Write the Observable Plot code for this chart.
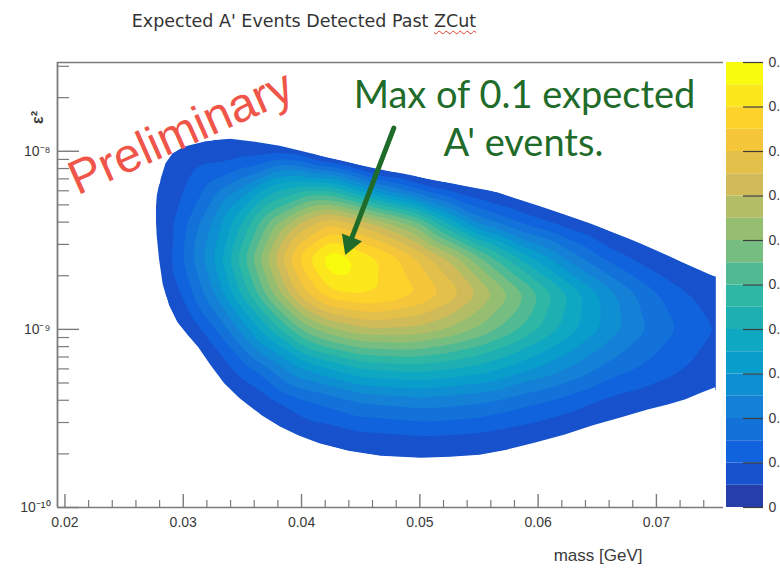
<!DOCTYPE html>
<html>
<head>
<meta charset="utf-8">
<script src="https://cdn.jsdelivr.net/npm/d3@7"></script>
<script src="https://cdn.jsdelivr.net/npm/@observablehq/plot@0.6"></script>
<style>
  html, body { margin: 0; padding: 0; background: #fff; }
  #figure { position: relative; width: 780px; height: 574px; overflow: hidden; }
  #main { position: absolute; left: 0; top: 0; }
  #colorbar { position: absolute; left: 726px; top: 0; }
  #title {
    position: absolute; left: 0; top: 11px; width: 608px; text-align: center;
    font: 17.5px/20px "DejaVu Sans", sans-serif; color: #333;
  }
  #title .spell { text-decoration: underline wavy #e23a2a; text-decoration-thickness: 1px; text-underline-offset: 3px; }
</style>
</head>
<body>
<div id="figure">
  <div id="main"></div>
  <div id="colorbar"></div>
  <div id="title">Expected A' Events Detected Past <span class="spell">ZCut</span></div>
</div>
<script>
// ---- Expected A' events on a (mass, log10 ε²) grid ----
const massCols = [0.025, 0.0275, 0.03, 0.0325, 0.035, 0.0375, 0.04, 0.0425, 0.045, 0.0475, 0.05,
                  0.0525, 0.055, 0.0575, 0.06, 0.0625, 0.065, 0.0675, 0.07, 0.0725, 0.075];
const logEps2Rows = [-10.0, -9.8, -9.6, -9.4, -9.2, -9.0, -8.8, -8.6, -8.4, -8.2, -8.0, -7.8, -7.6];
// one row per log10(ε²) value, one column per mass value
const expectedEvents = [
  [0, 0, 0, 0, 0, 0, 0, 0, 0, 0, 0, 0, 0, 0, 0, 0, 0, 0, 0, 0, 0],
  [0, 0, 0, 0, 0, 0, 0, 0, 0.0012, 0.0015, 0.0021, 0.0019, 0.0016, 0.0006, 0, 0, 0, 0, 0, 0, 0],
  [0, 0, 0, 0, 0, 0.0019, 0.0052, 0.0064, 0.0084, 0.0089, 0.0096, 0.0093, 0.0088, 0.0075, 0.0062, 0.0048, 0.0027, 0.0013, 0.0006, 0, 0],
  [0, 0, 0, 0, 0.0048, 0.0091, 0.0142, 0.0171, 0.0206, 0.0217, 0.0228, 0.0221, 0.0209, 0.0184, 0.0158, 0.0130, 0.0100, 0.0078, 0.0061, 0.0049, 0.0035],
  [0, 0, 0, 0.0055, 0.0133, 0.0221, 0.0318, 0.0374, 0.0423, 0.0436, 0.0444, 0.0426, 0.0399, 0.0357, 0.0309, 0.0261, 0.0211, 0.0168, 0.0134, 0.0102, 0.0077],
  [0, 0, 0.0040, 0.0137, 0.0268, 0.0409, 0.0556, 0.0643, 0.0689, 0.0694, 0.0685, 0.0647, 0.0594, 0.0528, 0.0453, 0.0380, 0.0307, 0.0240, 0.0185, 0.0135, 0.0097],
  [0, 0.0017, 0.0107, 0.0240, 0.0412, 0.0597, 0.0780, 0.0893, 0.0913, 0.0897, 0.0855, 0.0788, 0.0702, 0.0608, 0.0506, 0.0404, 0.0308, 0.0223, 0.0155, 0.0104, 0.0071],
  [0, 0.0025, 0.0150, 0.0296, 0.0484, 0.0687, 0.0877, 0.1000, 0.0940, 0.0884, 0.0795, 0.0698, 0.0566, 0.0444, 0.0334, 0.0235, 0.0160, 0.0104, 0.0063, 0.0037, 0.0026],
  [0, 0.0037, 0.0133, 0.0255, 0.0405, 0.0574, 0.0713, 0.0797, 0.0732, 0.0648, 0.0560, 0.0385, 0.0231, 0.0167, 0.0113, 0.0069, 0.0036, 0.0010, 0, 0, 0],
  [0, 0.0039, 0.0096, 0.0169, 0.0245, 0.0370, 0.0412, 0.0405, 0.0299, 0.0188, 0.0111, 0.0067, 0.0039, 0.0011, 0, 0, 0, 0, 0, 0, 0],
  [0, 0.0046, 0.0052, 0.0069, 0.0076, 0.0077, 0.0052, -0.0039, -0.0116, -0.0157, -0.0126, -0.0082, 0, 0, 0, 0, 0, 0, 0, 0, 0],
  [0, 0, 0.0029, 0.0009, 0, 0, 0, 0, 0, 0, 0, 0, 0, 0, 0, 0, 0, 0, 0, 0, 0],
  [0, 0, 0, 0, 0, 0, 0, 0, 0, 0, 0, 0, 0, 0, 0, 0, 0, 0, 0, 0, 0]
];

// Edge of the populated region: upper and lower halves, [mass, log10 ε²], ascending mass
const upperEdge = [
  [0.0277, -8.350], [0.0278, -8.254], [0.0281, -8.153], [0.0285, -8.068], [0.0291, -8.011],
  [0.0302, -7.972], [0.0319, -7.944], [0.0340, -7.932], [0.0361, -7.949], [0.0382, -7.972],
  [0.0403, -8.006], [0.0425, -8.040], [0.0446, -8.073], [0.0467, -8.102], [0.0488, -8.130],
  [0.0509, -8.158], [0.0526, -8.181], [0.0543, -8.203], [0.0566, -8.232], [0.0581, -8.266],
  [0.0602, -8.311], [0.0622, -8.356], [0.0644, -8.407], [0.0666, -8.463], [0.0687, -8.520],
  [0.0708, -8.582], [0.0729, -8.644], [0.0750, -8.706]
];
const lowerEdge = [
  [0.0277, -8.350], [0.0278, -8.480], [0.0280, -8.610], [0.0283, -8.746], [0.0288, -8.864],
  [0.0295, -8.960], [0.0304, -9.034], [0.0313, -9.102], [0.0323, -9.198], [0.0335, -9.305],
  [0.0348, -9.390], [0.0367, -9.486], [0.0382, -9.548], [0.0398, -9.599], [0.0416, -9.644],
  [0.0440, -9.684], [0.0467, -9.712], [0.0501, -9.723], [0.0526, -9.718], [0.0551, -9.706],
  [0.0574, -9.678], [0.0598, -9.638], [0.0623, -9.593], [0.0646, -9.542], [0.0670, -9.497],
  [0.0693, -9.452], [0.0710, -9.424], [0.0725, -9.395], [0.0737, -9.362], [0.0750, -9.328]
];

// Contour levels (20 bands of 0.005 from 0 to 0.1) and colour-bar ticks
const zLevels = [0.005, 0.01, 0.015, 0.02, 0.025, 0.03, 0.035, 0.04, 0.045, 0.05,
                 0.055, 0.06, 0.065, 0.07, 0.075, 0.08, 0.085, 0.09, 0.095];
const zBandLows = [0, ...zLevels];
const zTicks = [0, 0.01, 0.02, 0.03, 0.04, 0.05, 0.06, 0.07, 0.08, 0.09, 0.1];

// Axis ticks
const xMajor = [0.02, 0.03, 0.04, 0.05, 0.06, 0.07];
const xMinor = [0.022, 0.024, 0.026, 0.028, 0.032, 0.034, 0.036, 0.038, 0.042, 0.044, 0.046, 0.048,
                0.052, 0.054, 0.056, 0.058, 0.062, 0.064, 0.066, 0.068, 0.072, 0.074];
const yMajor = [1e-10, 1e-9, 1e-8];
const yMinor = [2e-10, 3e-10, 4e-10, 5e-10, 6e-10, 7e-10, 8e-10, 9e-10,
                2e-9, 3e-9, 4e-9, 5e-9, 6e-9, 7e-9, 8e-9, 9e-9, 2e-8, 3e-8];

const xDomain = [0.01937, 0.07567];
const yDomain = [1e-10, 3.15e-8];

// ROOT "bird" palette, sampled once per contour band
const bird = {
  r: [0.2082, 0.0592, 0.0780, 0.0232, 0.1802, 0.5301, 0.8186, 0.9956, 0.9764],
  g: [0.1664, 0.3599, 0.5041, 0.6419, 0.7178, 0.7492, 0.7328, 0.7862, 0.9832],
  b: [0.5293, 0.8684, 0.8385, 0.7914, 0.6425, 0.4662, 0.3499, 0.1968, 0.0539]
};
function birdColor(t) {
  const n = bird.r.length - 1;
  const k = Math.min(n - 1, Math.floor(t * n)), f = t * n - k;
  const c = (ch) => Math.round(255 * (bird[ch][k] + f * (bird[ch][k + 1] - bird[ch][k])));
  return `rgb(${c("r")},${c("g")},${c("b")})`;
}
const bandColors = zBandLows.map((_, i) => birdColor((i + 1) / zBandLows.length));
const colorScale = {type: "threshold", domain: zLevels, range: bandColors};

// Tables handed to the marks
const field = [];
logEps2Rows.forEach((L, i) => massCols.forEach((m, j) =>
  field.push({mass: m, eps2: 10 ** L, expected: expectedEvents[i][j]})));
const toPoint = ([m, L]) => ({mass: m, eps2: 10 ** L});
const upper = upperEdge.map(toPoint);
const lower = lowerEdge.map(toPoint);
const outline = [...upper].reverse().concat(lower);

const sup = {"-": "\u207B", "0": "\u2070", "1": "\u00B9", "2": "\u00B2", "3": "\u00B3", "4": "\u2074",
             "5": "\u2075", "6": "\u2076", "7": "\u2077", "8": "\u2078", "9": "\u2079"};
const powerLabel = (d) => "10" + String(Math.round(Math.log10(d))).replace(/./g, (c) => sup[c]);

// Annotation anchors
const arrow = {x1: 0.0478, y1: 1.35e-8, x2: 0.0437, y2: 2.62e-9};
const annotGreen = "#1f6b29";
const axisGray = "#7b7b7b";
const labelInk = "#3a3a3a";
const annotFont = "Lato, 'Open Sans', sans-serif";

const main = Plot.plot({
  width: 780,
  height: 574,
  marginLeft: 57,
  marginRight: 57,
  marginTop: 62,
  marginBottom: 67,
  x: {domain: xDomain},
  y: {type: "log", domain: yDomain},
  color: colorScale,
  style: {fontFamily: "'Liberation Sans', Arial, sans-serif", color: labelInk, background: "white"},
  marks: [
    // populated region, lowest visible band
    Plot.line(outline, {x: "mass", y: "eps2", fill: bandColors[1], stroke: "none"}),
    // filled contours of the expected-event map
    Plot.contour(field, {
      x: "mass", y: "eps2", fill: "expected", stroke: "none",
      thresholds: zLevels, interpolate: "barycentric",
      x1: upperEdge[0][0], x2: 0.075, y1: 1e-10, y2: 10 ** -7.6,
      pixelSize: 1, blur: 6
    }),
    // empty bins outside the region
    Plot.areaY(upper, {x: "mass", y1: "eps2", y2: yDomain[1], fill: "white"}),
    Plot.areaY(lower, {x: "mass", y1: "eps2", y2: yDomain[0], fill: "white"}),
    // frame and inward ticks
    Plot.ruleY([yDomain[1]], {stroke: axisGray, strokeWidth: 1.5}),
    Plot.ruleY([yDomain[0]], {stroke: axisGray, strokeWidth: 1.5}),
    Plot.ruleX([xDomain[0]], {stroke: axisGray, strokeWidth: 1.8}),
    Plot.tickX(xMajor, {x: (d) => d, insetTop: 445 - 13, stroke: axisGray, strokeWidth: 1.4}),
    Plot.tickX(xMinor, {x: (d) => d, insetTop: 445 - 7, stroke: axisGray, strokeWidth: 1.2}),
    Plot.tickY(yMajor, {y: (d) => d, insetRight: 666 - 22, stroke: axisGray, strokeWidth: 1.4}),
    Plot.tickY(yMinor, {y: (d) => d, insetRight: 666 - 12, stroke: axisGray, strokeWidth: 1.2}),
    Plot.axisX(xMajor, {tickSize: 0, tickPadding: 10, tickFormat: (d) => d.toFixed(2), fontSize: 14, label: null}),
    Plot.axisY(yMajor, {tickSize: 0, tickPadding: 7, tickFormat: powerLabel, fontSize: 14, label: null}),
    Plot.text(["mass [GeV]"], {text: (d) => d, frameAnchor: "bottom-right", dx: -81, dy: 48,
      textAnchor: "end", lineAnchor: "middle", fontSize: 17}),
    Plot.text(["\u03B5\u00B2"], {text: (d) => d, frameAnchor: "top-left", dx: -20, dy: 55,
      rotate: -90, textAnchor: "middle", lineAnchor: "middle", fontSize: 16, fontWeight: "bold"}),
    // watermark and annotation
    Plot.text(["Preliminary"], {text: (d) => d, frameAnchor: "top-left", dx: 20, dy: 133, rotate: -24,
      textAnchor: "start", lineAnchor: "bottom", fontSize: 48, fill: "#ef5548"}),
    Plot.text(["Max of 0.1 expected"], {text: (d) => d, frameAnchor: "top-left", dx: 467, dy: 33.5,
      textAnchor: "middle", lineAnchor: "middle", fontSize: 38, fontFamily: annotFont, fill: annotGreen}),
    Plot.text(["A' events."], {text: (d) => d, frameAnchor: "top-left", dx: 466, dy: 81.5,
      textAnchor: "middle", lineAnchor: "middle", fontSize: 38, fontFamily: annotFont, fill: annotGreen}),
    Plot.arrow([arrow], {x1: "x1", y1: "y1", x2: "x2", y2: "y2", headLength: 0, insetEnd: 11,
      stroke: annotGreen, strokeWidth: 5}),
    Plot.dot([arrow], {x: "x2", y: "y2", symbol: "triangle", r: 8, rotate: 201, dx: 4.4, dy: -11.6,
      fill: annotGreen, stroke: "none"})
  ]
});
document.getElementById("main").append(main);

// Vertical colour bar
const bands = zBandLows.map((lo, i) => ({lo, hi: i + 1 < zBandLows.length ? zBandLows[i + 1] : 0.1}));
const bar = Plot.plot({
  width: 54,
  height: 574,
  marginLeft: 0,
  marginRight: 17,
  marginTop: 62,
  marginBottom: 67,
  y: {domain: [0, 0.1]},
  color: colorScale,
  style: {fontFamily: "'Liberation Sans', Arial, sans-serif", color: labelInk, background: "white"},
  marks: [
    Plot.rect(bands, {y1: "lo", y2: "hi", fill: "lo"}),
    Plot.tickY(zTicks, {y: (d) => d, insetLeft: 17, stroke: "#3c3c3c", strokeWidth: 1.2}),
    Plot.axisY(zTicks, {anchor: "right", tickSize: 0, tickPadding: 5, fontSize: 14, label: null,
      tickFormat: (d) => String(+d.toFixed(2))})
  ]
});
document.getElementById("colorbar").append(bar);
</script>
</body>
</html>
